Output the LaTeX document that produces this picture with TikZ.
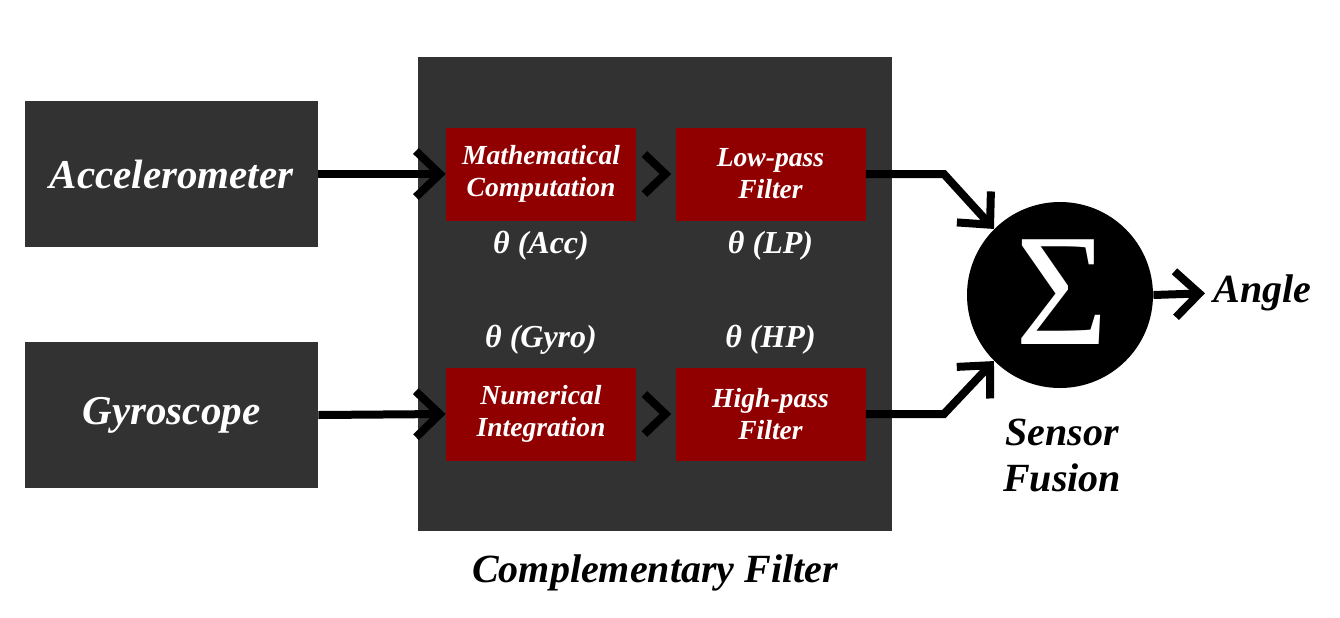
\documentclass[tikz,border=0pt]{standalone}
\usepackage{fontspec}
\setmainfont{LiberationSerif}[Extension=.ttf,UprightFont=*-Regular,BoldFont=*-Bold,ItalicFont=*-Italic,BoldItalicFont=*-BoldItalic]
\usetikzlibrary{arrows.meta,calc}
\definecolor{panel}{RGB}{50,50,50}
\definecolor{stage}{RGB}{144,0,0}
\begin{document}
\begin{tikzpicture}[x=0.5pt,y=-0.5pt,
  sensorbox/.style={fill=panel,draw=none,minimum width=146.5pt,minimum height=73pt,
    text=white,font=\bfseries\itshape\fontsize{20.5}{23}\selectfont},
  stagebox/.style={fill=stage,draw=none,minimum width=95pt,minimum height=46.5pt,
    text=white,align=center,font=\bfseries\itshape\fontsize{13.8}{16}\selectfont},
  sig/.style={text=white,font=\bfseries\itshape\fontsize{16}{18}\selectfont},
  caption/.style={text=black,font=\bfseries\itshape\fontsize{20}{23}\selectfont,align=center},
  conn/.style={draw=black,line width=4pt,-{Straight Barb[length=12pt,width=23pt]}},
  chevron/.style={draw=black,line width=4pt,miter limit=4}
]
\useasboundingbox (0,0) rectangle (1340,617);

% sensors
\node[sensorbox] (acc) at (171.5,174) {Accelerometer};
\node[sensorbox] (gyro) at (171.5,415) {Gyroscope};

% complementary filter panel
\node[fill=panel,minimum width=237pt,minimum height=237pt,inner sep=0] (cf) at (655,294) {};
\node[stagebox] (math) at (541,174) {Mathematical\\Computation};
\node[stagebox] (lp) at (770.5,174) {Low-pass\\Filter};
\node[stagebox] (num) at (541,414) {Numerical\\Integration};
\node[stagebox] (hp) at (770.5,414) {High-pass\\Filter};

\node[sig] (tacc) at (541,246) {θ (Acc)};
\node[sig] (tlp) at (770.5,246) {θ (LP)};
\node[sig] (tgyro) at (541,340) {θ (Gyro)};
\node[sig] (thp) at (770.5,340) {θ (HP)};

\node[caption] (cflabel) at (655,573) {Complementary Filter};

% summing junction
\node[circle,fill=black,minimum size=93pt,inner sep=0] (sum) at (1060,295) {};
\node[text=white,font=\fontsize{80}{80}\selectfont] (sigma) at (1062,292) {Σ};
\node[caption] (fusion) at (1062,455) {Sensor\\Fusion};
\node[caption,anchor=west,inner sep=0] (angle) at (1213,293) {Angle};

% connectors
\draw[conn] (acc.east) -- (math.west);
\draw[conn] (gyro.east) -- (num.west);
\draw[chevron] ($(math.east)+(8,-20)$) -- ($(math.east)+(29,0)$) -- ($(math.east)+(8,20)$);
\draw[chevron] ($(num.east)+(8,-20)$) -- ($(num.east)+(29,0)$) -- ($(num.east)+(8,20)$);
\draw[conn] (lp.east) -- ++(78,0) -- (sum.135);
\draw[conn] (hp.east) -- ++(78,0) -- (sum.225);
\draw[conn,shorten >=4pt] (sum.east) -- (angle.west);
\end{tikzpicture}
\end{document}
